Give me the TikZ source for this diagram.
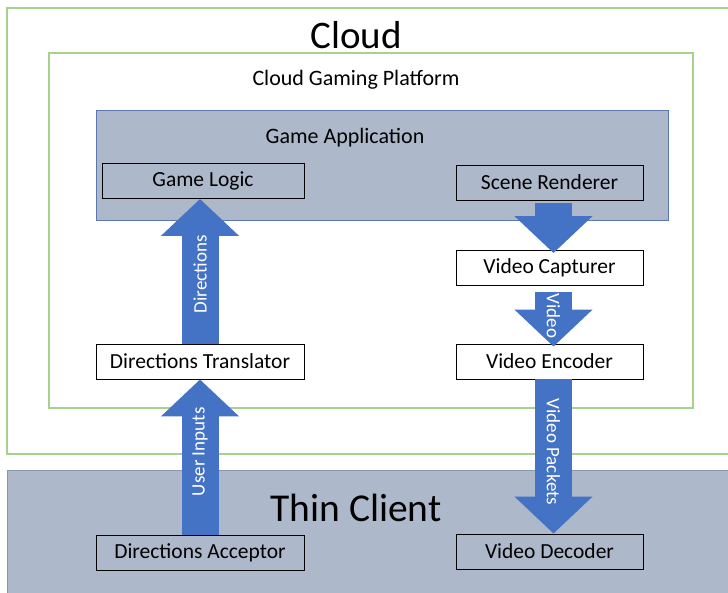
\documentclass[tikz,border=0pt]{standalone}
\usepackage{fontspec}
\setmainfont{Carlito}
\usetikzlibrary{arrows.meta}
\definecolor{grn}{HTML}{A9D18E}
\definecolor{slate}{HTML}{ADB9CA}
\definecolor{appedge}{HTML}{5B77AD}
\definecolor{tcedge}{HTML}{8797AE}
\definecolor{arr}{HTML}{4472C4}
\tikzset{
  comp/.style={draw=black, line width=0.9pt, minimum height=35pt, inner sep=0pt, font=\fontsize{21.5}{24}\selectfont},
  bigarrow/.style={draw=arr, line width=37pt, -{Triangle[width=76pt,length=37pt]}, arr},
  arrlabel/.style={sloped, text=white, font=\fontsize{19}{22}\selectfont},
}
\begin{document}
\begin{tikzpicture}[x=1pt,y=-1pt]
\useasboundingbox (0,0) rectangle (728,592);
\clip (0,0) rectangle (728,592);
% cloud
\draw[grn, line width=1.4pt] (7,8) rectangle (740,454);
\node (cloudlbl) at (356,35) {\fontsize{39}{44}\selectfont Cloud};
% platform
\draw[grn, line width=1.4pt] (49,53) rectangle (693,408);
\node (platlbl) at (356,79.5) {\fontsize{22}{26}\selectfont Cloud Gaming Platform};
% game application
\draw[appedge, fill=slate, line width=1pt] (96,110) rectangle (668,220);
\node (applbl) at (345,137.5) {\fontsize{22}{26}\selectfont Game Application};
% thin client
\draw[tcedge, fill=slate, line width=1pt] (7,470) rectangle (740,600);
\node (tclbl) at (356,508) {\fontsize{39.5}{44}\selectfont Thin Client};
% components
\node[comp, fill=slate, minimum width=202pt] (gl) at (203,181) {Game Logic};
\node[comp, fill=slate, minimum width=187pt] (sr) at (549.5,182.5) {Scene Renderer};
\node[comp, fill=white, minimum width=187pt] (vc) at (549.5,268) {Video Capturer};
\node[comp, fill=white, minimum width=187pt] (ve) at (549.5,361.5) {Video Encoder};
\node[comp, fill=white, minimum width=208pt] (dt) at (200,361.5) {Directions Translator};
\node[comp, fill=slate, minimum width=208pt] (da) at (200,553) {Directions Acceptor};
\node[comp, fill=slate, minimum width=187pt] (vd) at (549.5,551.5) {Video Decoder};
% arrows
\draw[bigarrow] (dt.north) -- (dt.north |- gl.south) node[arrlabel, pos=0.48] {Directions};
\draw[bigarrow] (da.north) -- (da.north |- dt.south) node[arrlabel, pos=0.535] {User Inputs};
\draw[bigarrow] ([xshift=4pt,yshift=-3pt]sr.south) -- ([xshift=4pt,yshift=-3pt]sr.south |- vc.north);
\draw[bigarrow] ([xshift=4pt,yshift=-6pt]vc.south) -- ([xshift=4pt,yshift=-3pt]vc.south |- ve.north) node[arrlabel, pos=0.44] {Video};
\draw[bigarrow] ([xshift=4pt]ve.south) -- ([xshift=4pt]ve.south |- vd.north) node[arrlabel, pos=0.47] {Video Packets};
\end{tikzpicture}
\end{document}
